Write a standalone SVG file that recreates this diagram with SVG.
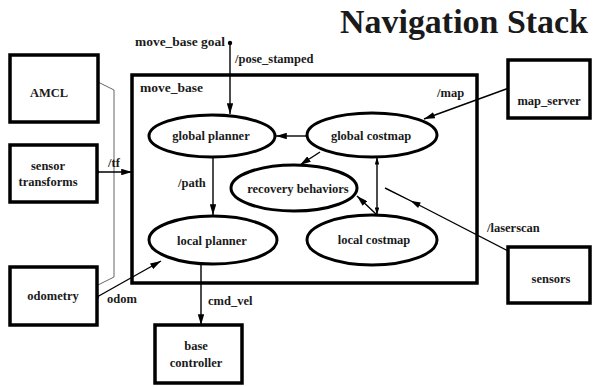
<svg xmlns="http://www.w3.org/2000/svg" width="593" height="387" viewBox="0 0 593 387">
<style>
text{font-family:"Liberation Serif","Times New Roman",serif;font-weight:bold;fill:#1a1a1a;font-size:12.5px}
.c{text-anchor:middle}
.box{fill:#fff;stroke:#000;stroke-width:3.5}
.ell{fill:#fff;stroke:#000;stroke-width:3}
.ln{fill:none;stroke:#000;stroke-width:1.4}
.thin{fill:none;stroke:#555;stroke-width:0.9}
</style>
<defs>
<marker id="ah" viewBox="0 0 10 6" refX="10" refY="3" markerWidth="11" markerHeight="6.5" markerUnits="userSpaceOnUse" orient="auto-start-reverse">
<path d="M0,0 L10,3 L0,6 Z" fill="#000"/>
</marker>
<marker id="as" viewBox="0 0 10 6" refX="10" refY="3" markerWidth="8" markerHeight="4.5" markerUnits="userSpaceOnUse" orient="auto-start-reverse">
<path d="M0,0 L10,3 L0,6 Z" fill="#000"/>
</marker>
<marker id="am" viewBox="0 0 10 6" refX="5" refY="3" markerWidth="13" markerHeight="6" markerUnits="userSpaceOnUse" orient="auto">
<path d="M0,0 L10,3 L0,6 Z" fill="#000"/>
</marker>
</defs>
<rect width="593" height="387" fill="#fff"/>
<text x="340" y="33" style="font-size:33px" textLength="248" lengthAdjust="spacingAndGlyphs">Navigation Stack</text>

<g id="move_base">
<rect x="132" y="75" width="345" height="208" fill="none" stroke="#000" stroke-width="3.5"/>
<text x="140" y="92" style="font-size:13.5px">move_base</text>
</g>

<g id="connectors">
<polyline class="thin" points="98,82 114,90 114,277 98,285"/>
<line class="ln" x1="230" y1="43" x2="230" y2="114" marker-end="url(#ah)"/>
<circle cx="230" cy="43" r="2.2"/>
<line class="ln" x1="97" y1="172" x2="132" y2="172" stroke-width="2" marker-end="url(#ah)"/>
<circle cx="97" cy="172" r="2"/>
<line class="ln" x1="97" y1="297" x2="161" y2="261" stroke-width="1.8" marker-end="url(#ah)"/>
<circle cx="97" cy="297" r="2"/>
<line class="ln" x1="213" y1="158" x2="213" y2="215" marker-end="url(#ah)"/>
<line class="ln" x1="201" y1="264" x2="201" y2="325" marker-end="url(#ah)"/>
<line class="ln" x1="307" y1="136" x2="276" y2="136" marker-end="url(#ah)"/>
<line class="ln" x1="320" y1="152" x2="300" y2="165" marker-end="url(#ah)"/>
<line class="ln" x1="377" y1="157" x2="377" y2="215" stroke-width="0.9" marker-start="url(#as)" marker-end="url(#as)"/>
<line class="ln" x1="377" y1="215" x2="357" y2="196" marker-end="url(#ah)"/>
<line class="ln" x1="509" y1="88" x2="424" y2="119" marker-end="url(#ah)"/>
<circle cx="509" cy="88" r="2"/>
<path class="ln" d="M510,252 L415,203 L385,188" stroke-width="1.2" marker-mid="url(#am)"/>
<circle cx="510" cy="252" r="2.2"/>
<text x="235" y="63">/pose_stamped</text>
<text x="135" y="46" style="font-size:11.5px" textLength="90" lengthAdjust="spacingAndGlyphs">move_base goal</text>
<text x="108" y="167">/tf</text>
<text x="107" y="303">odom</text>
<text x="178" y="187">/path</text>
<text x="208" y="305">cmd_vel</text>
<text x="437" y="97">/map</text>
<text x="487" y="232">/laserscan</text>
</g>

<g id="amcl"><rect class="box" x="10" y="55" width="88" height="67"/><text class="c" x="49" y="97">AMCL</text></g>
<g id="sensor_transforms"><rect class="box" x="10" y="145" width="87" height="57"/><text class="c" x="48" y="170">sensor</text><text class="c" x="48" y="186">transforms</text></g>
<g id="odometry"><rect class="box" x="10" y="267" width="87" height="58"/><text class="c" x="53" y="300">odometry</text></g>
<g id="map_server"><rect class="box" x="508" y="60" width="82" height="58"/><text class="c" x="549" y="105">map_server</text></g>
<g id="sensors"><rect class="box" x="508" y="247" width="82" height="56"/><text class="c" x="551" y="283">sensors</text></g>
<g id="base_controller"><rect class="box" x="155" y="325" width="87" height="58"/><text class="c" x="196" y="350">base</text><text class="c" x="196" y="367">controller</text></g>

<g id="global_planner"><ellipse class="ell" cx="212" cy="136" rx="63" ry="21"/><text class="c" x="211" y="140">global planner</text></g>
<g id="global_costmap"><ellipse class="ell" cx="372" cy="135" rx="65" ry="22"/><text class="c" x="371" y="140">global costmap</text></g>
<g id="recovery_behaviors"><ellipse class="ell" cx="294" cy="188" rx="63" ry="23"/><text class="c" x="298" y="193">recovery behaviors</text></g>
<g id="local_planner"><ellipse class="ell" cx="213" cy="240" rx="64" ry="24"/><text class="c" x="212" y="245">local planner</text></g>
<g id="local_costmap"><ellipse class="ell" cx="372" cy="240" rx="65" ry="25"/><text class="c" x="374" y="244">local costmap</text></g>
</svg>
